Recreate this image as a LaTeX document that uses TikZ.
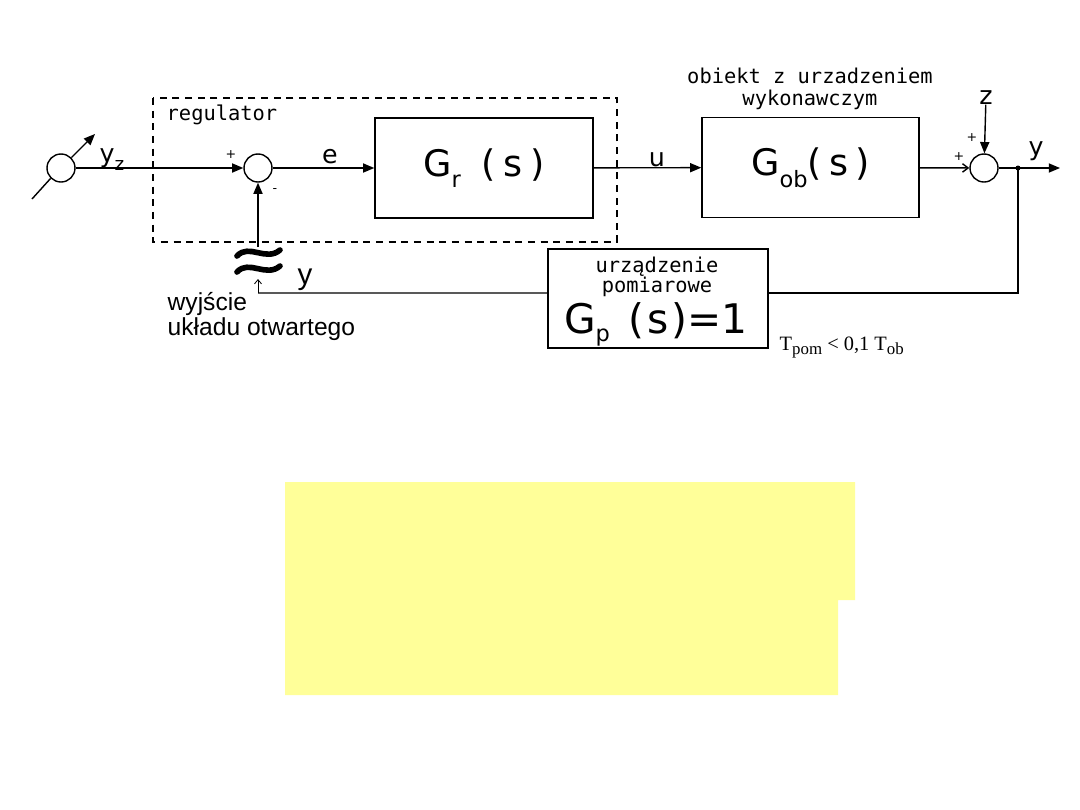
\documentclass[tikz,border=0pt]{standalone}
\usepackage{fontspec}
\usepackage{amsmath}
\usetikzlibrary{arrows.meta}
\newfontfamily\blockfont{DejaVu Sans}
\newfontfamily\monofont{DejaVu Sans Mono}
\newfontfamily\arialfont{Liberation Sans}
\newfontfamily\timesfont{Liberation Serif}
\definecolor{notecolor}{RGB}{255,255,153}
\newcommand{\blocksub}[2][-0.32em]{\raisebox{#1}{\fontsize{16}{16}\selectfont #2}}

\begin{document}
\begin{tikzpicture}[x=0.025cm, y=-0.025cm, line width=1pt,
  >={Triangle[length=8pt,width=6.5pt]},
  block/.style={draw, minimum width=5.45cm, minimum height=2.5cm, inner sep=0pt,
    font=\blockfont\fontsize{26}{26}\selectfont},
  sumnode/.style={draw, circle, minimum size=0.7cm, inner sep=0pt, fill=white},
  sig/.style={font=\blockfont\fontsize{18}{18}\selectfont, inner sep=0pt},
  mono/.style={font=\monofont\fontsize{14.5}{15.6}\selectfont, inner sep=0pt},
  sign/.style={font=\blockfont\fontsize{9}{9}\selectfont, inner sep=0pt},
  tilde/.style={line width=4pt, line cap=round}]

% Page frame
\useasboundingbox (0,0) rectangle (1080,810);

% Yellow note
\fill[notecolor] (285,482) -- (855,482) -- (855,600) -- (838,600)
  -- (838,695) -- (285,695) -- cycle;

% Regulator frame
\draw[dash pattern=on 5pt off 4pt] (153,98) rectangle (617,242);
\node[mono, anchor=base west] (reglabel) at (166,120) {regulator};

% Input
\node[sumnode] (inp) at (61,168) {};
\coordinate (inlow) at (32,199);
\coordinate (inhigh) at (95,134);
\draw (inlow) -- (inp.225);
\draw[->] (inp.45) -- (inhigh);
\node[sig, anchor=base west] (yz) at (99,162) {y\blocksub{\fontsize{13}{13}\selectfont z}};

% First summing point
\node[sumnode] (sum1) at (258,168) {};
\draw[->] (inp) -- (sum1);
\node[sign] at (231,155) {+};
\node[sign] at (275,191) {-};

% Controller
\node[block] (gr) at (484,168) {G\blocksub{r}\hspace{0.55em}(\kern0.22em s\kern0.22em)\hspace{0.15em}};
\draw[->] (sum1) -- (gr);
\node[sig, anchor=base] (elabel) at (330,163) {e};

% Plant
\node[block, minimum width=5.425cm] (gob) at (810.5,167.5) {G\blocksub{ob}(\kern0.2em s\kern0.2em)\hspace{0.35em}};
\node[mono, align=center, anchor=base] (oblabel) at (810,105) {obiekt z urzadzeniem\\wykonawczym};
\draw[->] (gr) -- (gob);
\node[sig, anchor=base] (ulabel) at (657,166) {u};

% Second summing point
\node[sumnode] (sum2) at (984,168) {};
\draw[-{Straight Barb[length=4pt,width=6pt]}] (gob) -- (sum2);
\node[sig, anchor=base] (zlabel) at (986,104) {z};
\draw[->] (zlabel) -- (sum2);
\node[sign] at (972,138) {+};
\node[sign] at (959,157) {+};

% Output
\coordinate (branch) at (1018,168);
\coordinate (yout) at (1060,168);
\draw (sum2) -- (branch);
\draw[->] (branch) -- (yout);
\fill (branch) circle (2.5);
\node[sig, anchor=base] (youtlabel) at (1036,155) {y};

% Measuring device
\node[block, minimum width=5.5cm, minimum height=2.475cm] (gp) at (658,298.5) {};
\node[mono, align=center, anchor=base, font=\monofont\fontsize{14.5}{14.2}\selectfont]
  (gplabel) at (657,292) {urządzenie\\pomiarowe};
\node[font=\blockfont\fontsize{29}{29}\selectfont, anchor=base, inner sep=0pt] (gptf)
  at (656,333) {G\blocksub[-0.2em]{p}\hspace{0.45em}(\kern0.08em s\kern0.08em)=1};
\node[font=\timesfont\fontsize{14.5}{14.5}\selectfont, anchor=base west, inner sep=0pt] (tpom)
  at (779,350) {T\raisebox{-0.22em}{\fontsize{12}{12}\selectfont pom} < 0,1 T\raisebox{-0.22em}{\fontsize{12}{12}\selectfont ob}};

% Feedback path with the break sign
\coordinate (fbcorner) at (258,293);
\coordinate (breaktop) at (258,247);
\coordinate (breakend) at (258,279);
\draw[tilde] (237,256) .. controls (249,243) and (266,262) .. (280,250);
\draw[tilde] (237,272) .. controls (249,259) and (266,278) .. (280,266);
\draw (branch) |- ([yshift=0.1375cm]gp.east);
\draw ([yshift=0.1375cm]gp.west) -- (fbcorner);
\draw[-{Straight Barb[length=3pt,width=5pt]}, line width=0.6pt] (fbcorner) -- (breakend);
\draw[->] (breaktop) -- (sum1);
\node[font=\arialfont\fontsize{21}{21}\selectfont, anchor=base, inner sep=0pt] (yfb) at (305,284) {y};
\node[font=\arialfont\fontsize{17.5}{23}\selectfont, anchor=base west, inner sep=0pt] (open1)
  at (167,310) {wyjście};
\node[font=\arialfont\fontsize{17.5}{23}\selectfont, anchor=base west, inner sep=0pt] (open2)
  at (167,335) {układu otwartego};

\end{tikzpicture}
\end{document}
